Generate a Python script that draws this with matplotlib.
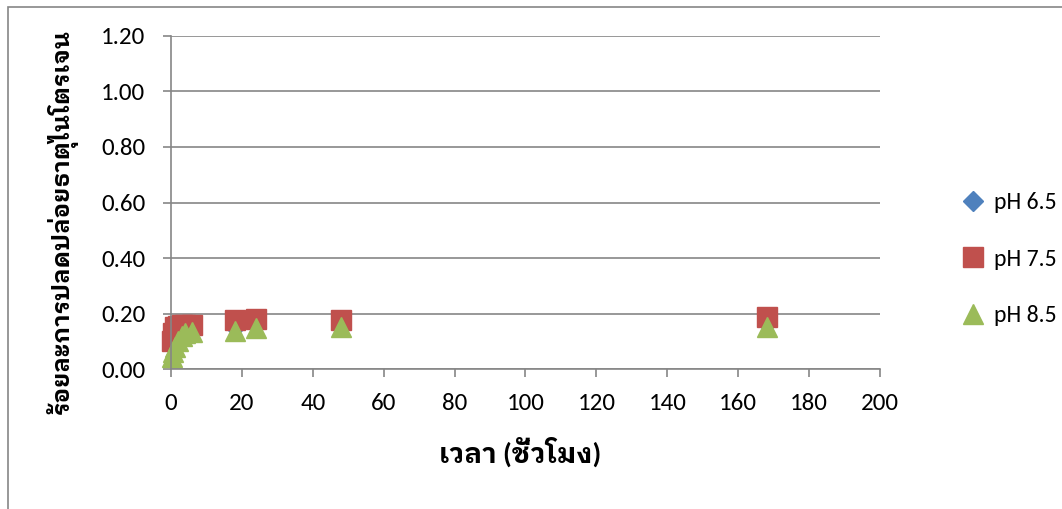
import matplotlib
matplotlib.use("Agg")
import matplotlib.pyplot as plt
from matplotlib.patches import Rectangle

# ฟอนต์: ตัวเลข/อังกฤษใช้ Carlito, ภาษาไทยใช้ IBM Plex Sans Thai Looped
thai_family = ['Carlito', 'IBM Plex Sans Thai Looped', 'Noto Sans Thai Looped', 'DejaVu Sans']
plt.rcParams['font.family'] = thai_family

# เวลา (ชั่วโมง)
hours = [0.25, 0.5, 1, 2, 3, 4, 6, 18, 24, 48, 168]

# ร้อยละการปลดปล่อยธาตุไนโตรเจน
ph65 = [0.085, 0.09, 0.10, 0.115, 0.13, 0.14, 0.145, 0.15, 0.158, 0.160, 0.165]
ph75 = [0.10, 0.13, 0.15, 0.155, 0.16, 0.16, 0.158, 0.175, 0.182, 0.178, 0.189]
ph85 = [0.045, 0.06, 0.08, 0.10, 0.12, 0.13, 0.135, 0.137, 0.147, 0.150, 0.152]

series_labels = ["pH 6.5", "pH 7.5", "pH 8.5"]
x_ticks = list(range(0, 201, 20))
y_ticks = [0.0, 0.2, 0.4, 0.6, 0.8, 1.0, 1.2]

grid_color = '#868686'

fig = plt.figure(figsize=(10.62, 5.09), dpi=100)
ax = fig.add_axes([0.161, 0.275, 0.6676, 0.6543])

# กรอบนอกของแผนภูมิ
fig.patches.append(Rectangle((8 / 1062, -0.2), 1.2, 1.2 - 7 / 509, transform=fig.transFigure,
                             fill=False, edgecolor=grid_color, linewidth=1.2))

ax.plot(hours, ph65, linestyle='none', marker='D', markersize=10, color='#4F81BD',
        label=series_labels[0], clip_on=False)
ax.plot(hours, ph75, linestyle='none', marker='s', markersize=14.5, color='#C0504D',
        label=series_labels[1], clip_on=False)
ax.plot(hours, ph85, linestyle='none', marker='^', markersize=15, color='#9BBB59',
        label=series_labels[2], clip_on=False)

ax.set_xlim(0, 200)
ax.set_ylim(0, 1.2)
ax.set_xticks(x_ticks)
ax.set_yticks(y_ticks)
ax.set_yticklabels([f"{v:.2f}" for v in y_ticks])
ax.tick_params(axis='both', labelsize=18, length=5.5, width=1.2, color=grid_color)
ax.tick_params(axis='y', pad=13)
ax.tick_params(axis='x', pad=12)

ax.yaxis.grid(True, color=grid_color, linewidth=1.2)
ax.set_axisbelow(True)
for side in ['top', 'right']:
    ax.spines[side].set_visible(False)
for side in ['left', 'bottom']:
    ax.spines[side].set_color(grid_color)
    ax.spines[side].set_linewidth(1.2)

# ชื่อแกน
fig.text(520 / 1062, 1 - 452 / 509, "เวลา (ชั่วโมง)", fontsize=20, fontweight='bold',
         ha='center', va='center')
fig.text(62 / 1062, 1 - 222 / 509, "ร้อยละการปลดปล่อยธาตุไนโตรเจน", fontsize=17.3, fontweight='bold',
         rotation=90, ha='center', va='center')

fig.legend(loc='center left', bbox_to_anchor=(940 / 1062, 1 - 259 / 509), frameon=False,
           fontsize=17, labelspacing=1.5, handlelength=1.0, handletextpad=0.4)

fig.savefig("out.png", dpi=100)
